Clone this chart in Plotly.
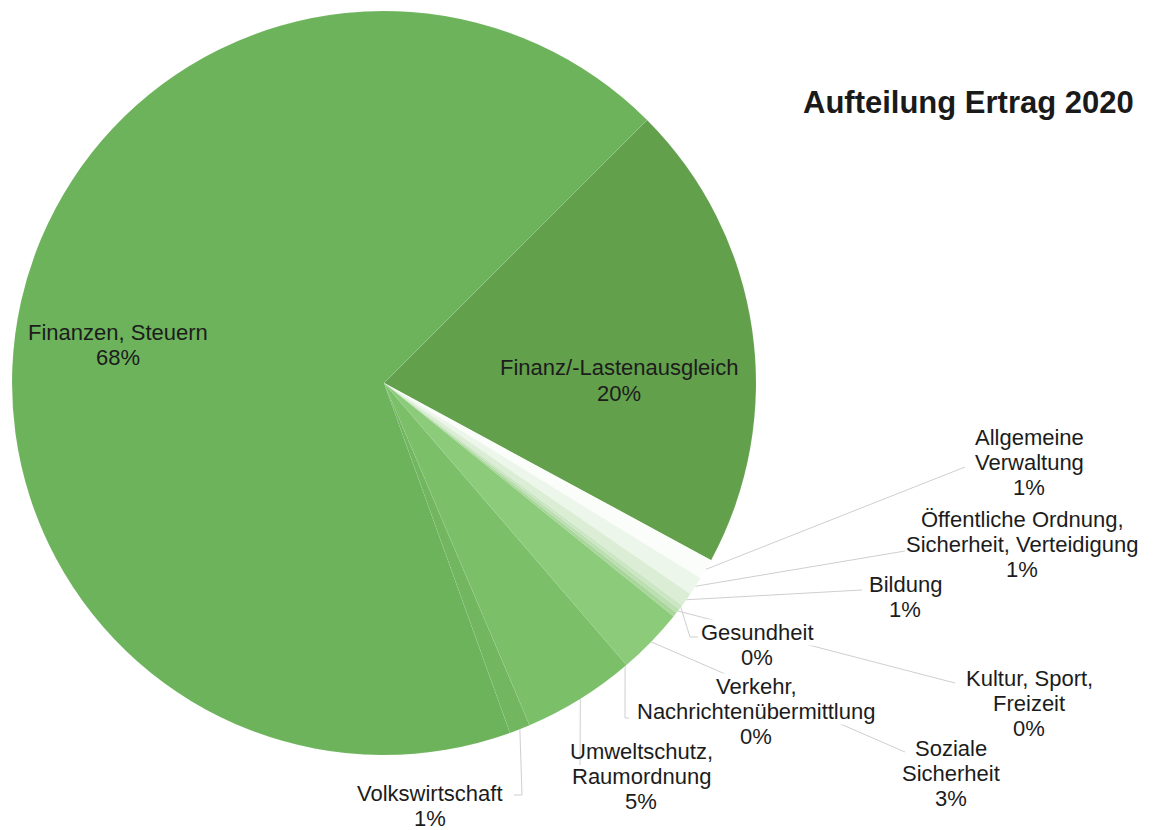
import math
import plotly.graph_objects as go

# ---------------- data ----------------
categories = [
    "Finanz/-Lastenausgleich",
    "Allgemeine Verwaltung",
    "Öffentliche Ordnung, Sicherheit, Verteidigung",
    "Bildung",
    "Gesundheit",
    "Kultur, Sport, Freizeit",
    "Verkehr, Nachrichtenübermittlung",
    "Soziale Sicherheit",
    "Umweltschutz, Raumordnung",
    "Volkswirtschaft",
    "Finanzen, Steuern",
]
values = [20.4, 0.9, 0.8, 0.6, 0.2, 0.2, 0.2, 2.9, 4.9, 0.9, 68.0]
label_lines = [
    ["Finanz/-Lastenausgleich"],
    ["Allgemeine", "Verwaltung"],
    ["Öffentliche Ordnung,", "Sicherheit, Verteidigung"],
    ["Bildung"],
    ["Gesundheit"],
    ["Kultur, Sport,", "Freizeit"],
    ["Verkehr,", "Nachrichtenübermittlung"],
    ["Soziale", "Sicherheit"],
    ["Umweltschutz,", "Raumordnung"],
    ["Volkswirtschaft"],
    ["Finanzen, Steuern"],
]
title_text = "Aufteilung Ertrag 2020"

# ---------------- style / layout ----------------
W, H = 1154, 830
CX, CY, R = 384, 383, 372
ROTATION = 45
colors = ["#62a04c", "#fbfdfa", "#edf6ea", "#dbeed5", "#cbe6c3", "#bcdfb2",
          "#a9d69b", "#8ccb7a", "#7bbf69", "#72b760", "#6cb35b"]
FONT = "Liberation Sans, Arial, sans-serif"
FS = 22
LS = 25  # line spacing in px

placements = [
    dict(x=619, y=368, bg=False, path=None),
    dict(x=1029, y=437, bg=False, path=[(965, 467)]),
    dict(x=1022, y=519, bg=False, path=[(905, 551)]),
    dict(x=905, y=584, bg=False, path=[(862, 590)]),
    dict(x=757, y=632, bg=True, path=[(690, 637), (698, 637)]),
    dict(x=1029, y=678, bg=False, path=[(955, 683)]),
    dict(x=756, y=686, bg=True, path=[(625, 718), (629, 718)], attach=139.6),
    dict(x=951, y=748, bg=False, path=[(905, 752)]),
    dict(x=641, y=751, bg=False, path=[(580, 765)]),
    dict(x=430, y=793, bg=False, path=[(522, 795), (514, 795)]),
    dict(x=118, y=332, bg=False, path=None),
]

total = sum(values)
pcts = [round(v / total * 100) for v in values]


def px2paper(px, py):
    return px / W, 1 - py / H


fig = go.Figure()
fig.add_trace(go.Pie(
    labels=categories,
    values=values,
    sort=False,
    direction="clockwise",
    rotation=ROTATION,
    textinfo="none",
    hoverinfo="label+percent",
    marker=dict(colors=colors, line=dict(color="rgba(255,255,255,0.12)", width=0.5)),
    domain=dict(x=[(CX - R) / W, (CX + R) / W], y=[1 - (CY + R) / H, 1 - (CY - R) / H]),
    showlegend=False,
))

shapes = []
annotations = []
cum = 0.0
for i, v in enumerate(values):
    a0 = ROTATION + cum / total * 360
    cum += v
    a1 = ROTATION + cum / total * 360
    mid = (a0 + a1) / 2
    pl = placements[i]
    if pl["path"]:
        ang = math.radians(pl.get("attach", mid))
        pts = [(CX + R * math.sin(ang), CY - R * math.cos(ang))] + pl["path"]
        for (x0, y0), (x1, y1) in zip(pts[:-1], pts[1:]):
            p0 = px2paper(x0, y0)
            p1 = px2paper(x1, y1)
            shapes.append(dict(type="line", xref="paper", yref="paper",
                               x0=p0[0], y0=p0[1], x1=p1[0], y1=p1[1],
                               line=dict(color="#cfcfcf", width=1), layer="above"))
    lines = label_lines[i] + [f"{pcts[i]}%"]
    for j, t in enumerate(lines):
        ax, ay = px2paper(pl["x"], pl["y"] + j * LS)
        ann = dict(text=t, x=ax, y=ay, xref="paper", yref="paper",
                   xanchor="center", yanchor="middle", showarrow=False,
                   font=dict(family=FONT, size=FS, color="#1c1c1c"), borderpad=0)
        if pl["bg"] and j < len(lines) - 1:
            ann["bgcolor"] = "white"
        annotations.append(ann)

tx, ty = px2paper(968, 103)
annotations.append(dict(text=f"<b>{title_text}</b>", x=tx, y=ty, xref="paper", yref="paper",
                        xanchor="center", yanchor="middle", showarrow=False,
                        font=dict(family=FONT, size=31, color="#1a1a1a")))

fig.update_layout(
    width=W, height=H,
    margin=dict(l=0, r=0, t=0, b=0),
    paper_bgcolor="white",
    plot_bgcolor="white",
    shapes=shapes,
    annotations=annotations,
)

fig.write_html("out.html")
